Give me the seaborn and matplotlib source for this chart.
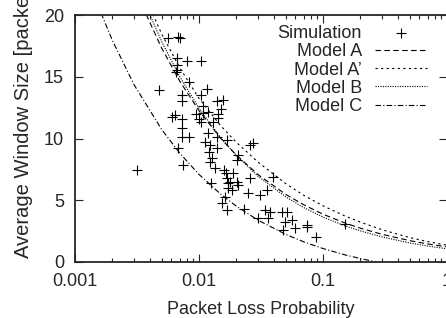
import matplotlib
matplotlib.use("Agg")
import matplotlib.pyplot as plt
import seaborn as sns
from matplotlib.ticker import FixedLocator, LogLocator, NullFormatter

# simulation results: loss probability / average window size
sim_loss = [0.00315, 0.00565, 0.00681, 0.00703, 0.00661, 0.00805, 0.01032, 0.00661, 0.00661, 0.00652,
            0.00835, 0.00476, 0.01166, 0.01038, 0.00725, 0.00733, 0.01405, 0.01570, 0.01083, 0.01496,
            0.01188, 0.01415, 0.00609, 0.00640, 0.00725, 0.00946, 0.01006, 0.01032, 0.01304, 0.00725,
            0.00725, 0.00835, 0.00681, 0.00739, 0.01243, 0.01621, 0.01524, 0.01673, 0.01188, 0.01389,
            0.01673, 0.01118, 0.01227, 0.01405, 0.01211, 0.01266, 0.01227, 0.01346, 0.01591, 0.01642,
            0.01673, 0.01723, 0.02075, 0.02014, 0.02578, 0.02741, 0.03973, 0.01891, 0.01778, 0.02014,
            0.02075, 0.01723, 0.01835, 0.02578, 0.02498, 0.03104, 0.03516, 0.02306, 0.03008, 0.03406,
            0.03738, 0.03622, 0.04645, 0.05097, 0.04938, 0.05593, 0.04786, 0.05943, 0.07388, 0.07468,
            0.08732, 0.1504, 0.01083, 0.01431]
sim_wnd = [7.45, 18.11, 18.19, 18.11, 16.49, 16.30, 16.30, 15.95, 15.55, 15.41,
           14.60, 13.93, 14.01, 13.52, 13.52, 13.04, 13.04, 13.12, 12.63, 12.39,
           12.17, 11.98, 11.77, 11.90, 11.55, 11.96, 11.55, 11.36, 11.36, 10.85,
           10.15, 10.15, 9.21, 7.85, 6.37, 5.29, 4.75, 4.21, 10.42, 10.15,
           9.88, 9.74, 9.47, 9.21, 8.93, 8.40, 8.12, 7.59, 7.45, 7.18,
           6.78, 6.37, 8.66, 8.26, 9.47, 9.61, 6.91, 7.18, 6.50, 6.50,
           6.23, 5.97, 5.83, 6.78, 5.56, 5.42, 5.83, 4.27, 3.54, 4.21,
           4.07, 3.54, 4.07, 4.07, 3.26, 3.40, 2.59, 2.73, 3.00, 2.81,
           2.05, 3.05, 12.04, 11.64]

# model curves
model_loss = [0.0035, 0.005, 0.007, 0.01, 0.015, 0.02, 0.03, 0.05, 0.07, 0.1, 0.15, 0.2, 0.3, 0.5, 0.7, 1.0]
model_a = [20.70, 17.32, 14.64, 12.25, 10.00, 8.66, 7.07, 5.48, 4.63, 3.87, 3.16, 2.74, 2.24, 1.73, 1.46, 1.22]
model_a2 = [21.97, 18.46, 15.72, 13.25, 11.02, 9.69, 8.08, 6.35, 5.40, 4.55, 3.73, 3.23, 2.61, 1.98, 1.65, 1.36]
model_b = [21.38, 17.85, 15.00, 12.45, 10.04, 8.63, 6.93, 5.28, 4.40, 3.64, 2.93, 2.52, 2.03, 1.54, 1.29, 1.07]
model_c_loss = [0.0015, 0.002, 0.003, 0.005, 0.007, 0.01, 0.015, 0.02, 0.03, 0.05, 0.07, 0.1, 0.15, 0.2, 0.271]
model_c = [20.98, 17.95, 14.34, 10.73, 8.81, 7.09, 5.48, 4.52, 3.38, 2.24, 1.63, 1.09, 0.58, 0.28, 0.0]

x_ticks = [0.001, 0.01, 0.1, 1]
x_ticklabels = ["0.001", "0.01", "0.1", "1"]
y_ticks = [0, 5, 10, 15, 20]


def main():
    sns.set_style("ticks")
    plt.rcParams["font.family"] = ["Liberation Sans", "DejaVu Sans"]

    fig = plt.figure(figsize=(4.46, 3.18), dpi=100)
    ax = fig.add_axes([75 / 446, 1 - 262 / 318, 372 / 446, 247 / 318])
    ax.set_xscale("log")

    sns.scatterplot(x=sim_loss, y=sim_wnd, ax=ax, marker="+", color="k", s=45,
                    linewidth=0.8, label="Simulation", zorder=3)
    lw = 0.8
    sns.lineplot(x=model_loss, y=model_a, ax=ax, color="k", lw=lw, linestyle=(0, (5, 3)),
                 label="Model A", sort=False, estimator=None)
    sns.lineplot(x=model_loss, y=model_a2, ax=ax, color="k", lw=lw, linestyle=(0, (2, 3)),
                 label="Model A\u2019", sort=False, estimator=None)
    sns.lineplot(x=model_loss, y=model_b, ax=ax, color="k", lw=lw, linestyle=(0, (1, 1.2)),
                 label="Model B", sort=False, estimator=None)
    sns.lineplot(x=model_c_loss, y=model_c, ax=ax, color="k", lw=lw, linestyle=(0, (5, 2, 1, 2)),
                 label="Model C", sort=False, estimator=None)

    ax.set_xlim(0.001, 1)
    ax.set_ylim(0, 20)
    ax.xaxis.set_major_locator(FixedLocator(x_ticks))
    ax.set_xticklabels(x_ticklabels)
    ax.xaxis.set_minor_locator(LogLocator(base=10, subs=range(2, 10)))
    ax.xaxis.set_minor_formatter(NullFormatter())
    ax.set_yticks(y_ticks)

    ax.tick_params(which="both", direction="in", top=True, right=True, labelsize=13, width=0.8)
    ax.tick_params(which="major", length=6, pad=8)
    ax.tick_params(which="minor", length=3)
    for s in ax.spines.values():
        s.set_linewidth(1.3)

    ax.set_xlabel("Packet Loss Probability", fontsize=13, labelpad=8)
    ax.set_ylabel("")
    # label runs past the top edge, as in the original figure
    fig.text(0.052, (318 - 258) / 318, "Average Window Size [packets]", rotation=90,
             ha="center", va="bottom", fontsize=14.5)

    ax.legend(loc="upper right", bbox_to_anchor=(427 / 446, 1 - 25 / 318),
              bbox_transform=fig.transFigure, frameon=False, markerfirst=False,
              fontsize=13, handlelength=2.9, handletextpad=0.7, labelspacing=0.07,
              borderpad=0, borderaxespad=0)

    fig.savefig("out.png", dpi=100)


if __name__ == "__main__":
    main()
